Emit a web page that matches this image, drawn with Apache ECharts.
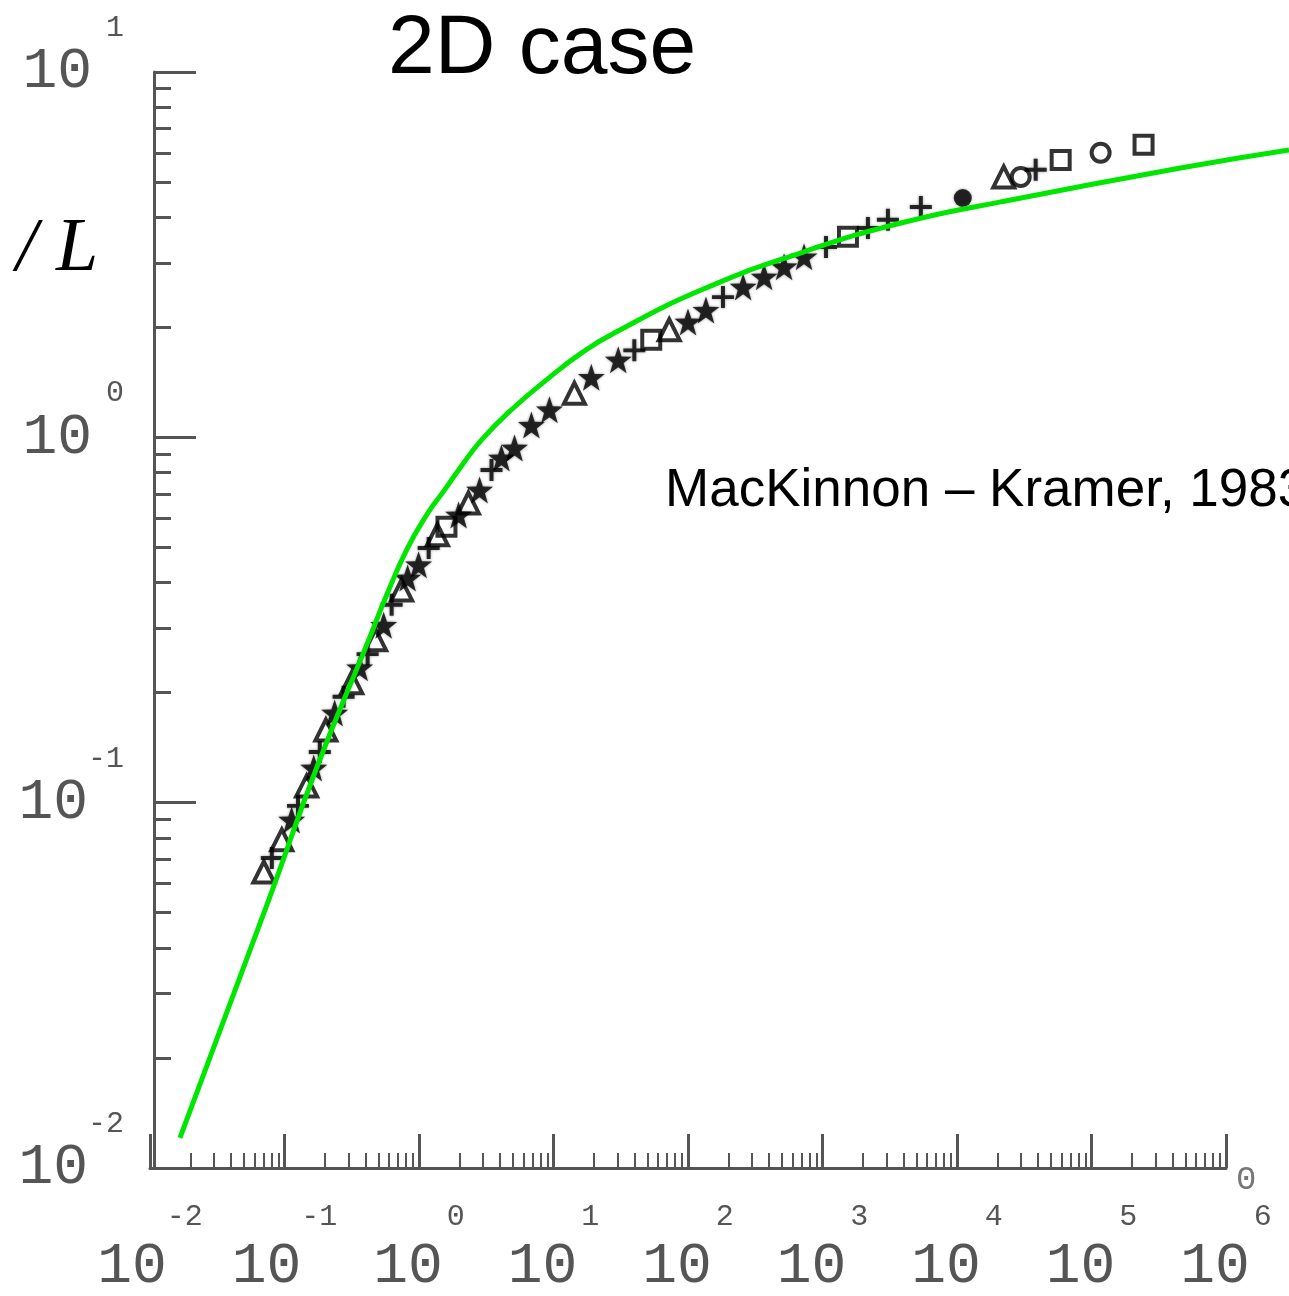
<!DOCTYPE html>
<html>
<head>
<meta charset="utf-8">
<script src="https://cdn.jsdelivr.net/npm/echarts@6/dist/echarts.min.js"></script>
<style>
  html, body { margin: 0; padding: 0; background: #ffffff; }
  #chart { width: 1289px; height: 1296px; }
</style>
</head>
<body>
<div id="chart"></div>
<script>
// ---- texts ----
const titleText = '2D case';
const noteText = 'MacKinnon – Kramer, 1983';
const yTitle = '/ L';

// ---- axis ranges and tick layout ----
const xRange = [1e-2, 1e6];
const yRange = [1e-2, 1e1];
const minorSteps = [2, 3, 4, 5, 6, 7, 8, 9];
const xDecades = [-2, -1, 0, 1, 2, 3, 4, 5];
const yDecades = [-2, -1, 0];

// ---- scaling curve (green), runs on past the last decade ----
const fitX = [0.0167, 0.0764, 0.174, 0.423, 0.575, 0.809, 1.139, 1.55, 2.07, 2.92, 4.87, 9.16, 16.1, 28.3, 125, 692, 3828, 21150, 458000, 2.94e6];
const fitY = [0.0121, 0.0542, 0.125, 0.279, 0.370, 0.492, 0.613, 0.718, 0.835, 0.984, 1.19, 1.45, 1.70, 1.93, 2.53, 3.20, 3.86, 4.41, 5.46, 6.12];

// ---- numerical data, grouped by marker ----
const triangleX = [0.0702, 0.0955, 0.146, 0.203, 0.316, 0.476, 0.743, 1.37, 2.33, 14.3, 72.5, 22250];
const triangleY = [0.0646, 0.0791, 0.111, 0.158, 0.213, 0.279, 0.382, 0.541, 0.661, 1.32, 1.97, 5.16];

const crossX = [0.0805, 0.126, 0.183, 0.275, 0.415, 0.626, 1.18, 3.46, 39.9, 182, 1062, 2177, 3065, 5385, 38460];
const crossY = [0.0706, 0.098, 0.1377, 0.195, 0.255, 0.348, 0.498, 0.814, 1.73, 2.42, 3.32, 3.74, 3.94, 4.27, 5.40];

const starX = [0.113, 0.165, 0.236, 0.362, 0.546, 0.823, 0.993, 1.97, 2.82, 4.10, 5.13, 6.85, 9.33, 19.1, 30.3, 100, 136, 257, 368, 518, 729];
const starY = [0.0897, 0.1245, 0.176, 0.234, 0.306, 0.412, 0.448, 0.613, 0.718, 0.878, 0.935, 1.08, 1.19, 1.46, 1.63, 2.07, 2.23, 2.58, 2.75, 2.93, 3.12];

const squareX = [1.60, 53.3, 1546, 58990, 243800];
const squareY = [0.569, 1.85, 3.54, 5.74, 6.32];

const dotX = [11040];
const dotY = [4.52];

const ringX = [29770, 116900];
const ringY = [5.16, 6.01];

const pairs = (xs, ys) => xs.map((x, i) => [x, ys[i]]);

const xMinor = xDecades.flatMap(d => minorSteps.map(s => +(s * Math.pow(10, d)).toPrecision(3)));
const yMinor = yDecades.flatMap(d => minorSteps.map(s => +(s * Math.pow(10, d)).toPrecision(3)));

// plot box in pixels
const W = 1289, H = 1296;
const box = { left: 150, right: 63, top: 72, bottom: 128 };
// a wider twin box (to the page edge) keeps the same pixels per decade,
// so the curve can continue beyond the axis end
const decadesX = Math.log10(xRange[1] / xRange[0]);
const pxPerDecade = (W - box.left - box.right) / decadesX;
const wideMax = xRange[0] * Math.pow(10, (W - box.left) / pxPerDecade);

const scanGray = '#555555';
const inkColor = '#000000';
const monoFont = 'Liberation Mono';

// "10" with the exponent raised; negative exponents sit a little tighter
const powerLabel = v => {
  const p = Math.round(Math.log10(v));
  return '{b|10}{' + (p < 0 ? 'n' : 'e') + '|' + p + '}';
};

const STAR = 'path://M0,-10L2.35,-3.24L9.51,-3.09L3.8,1.24L5.88,8.09L0,4L-5.88,8.09L-3.8,1.24L-9.51,-3.09L-2.35,-3.24Z';
const CROSS = 'path://M-1.8,-10H1.8V-1.8H10V1.8H1.8V10H-1.8V1.8H-10V-1.8H-1.8Z';

// soft edge of the printed solid symbols
const inkBlur = { shadowBlur: 3, shadowColor: 'rgba(0,0,0,0.5)' };
const openStyle = { color: 'rgba(255,255,255,0)', borderColor: inkColor, borderWidth: 4 };

const chart = echarts.init(document.getElementById('chart'), null, { renderer: 'canvas' });

const hiddenAxisParts = {
  axisLine: { show: false },
  axisLabel: { show: false },
  splitLine: { show: false }
};
const bareAxis = {
  show: false, axisLine: { show: false }, axisTick: { show: false },
  axisLabel: { show: false }, splitLine: { show: false }
};

const labelRich = (raise, gap) => ({
  b: { fontFamily: monoFont, fontSize: 58, lineHeight: 58, color: scanGray },
  e: { fontFamily: monoFont, fontSize: 30, lineHeight: 30, color: scanGray, padding: [0, 0, raise, gap] },
  n: { fontFamily: monoFont, fontSize: 30, lineHeight: 30, color: scanGray, padding: [0, 0, raise, 0] }
});

chart.setOption({
  backgroundColor: '#ffffff',
  animation: false,
  grid: [
    Object.assign({ containLabel: false, outerBoundsMode: 'none' }, box),
    { left: box.left, right: 0, top: box.top, bottom: box.bottom, containLabel: false, outerBoundsMode: 'none' }
  ],
  xAxis: [
    {
      type: 'log', logBase: 10, min: xRange[0], max: xRange[1], interval: 1, gridIndex: 0,
      axisLine: { show: true, lineStyle: { color: scanGray, width: 3 } },
      axisTick: { show: true, inside: true, length: 34, lineStyle: { color: scanGray, width: 3 } },
      splitLine: { show: false },
      axisLabel: { show: true, margin: 70, formatter: powerLabel, rich: labelRich(100, 4) }
    },
    Object.assign({
      type: 'log', logBase: 10, min: xRange[0], max: xRange[1], position: 'bottom', gridIndex: 0,
      axisTick: { show: true, inside: true, length: 15, customValues: xMinor, lineStyle: { color: scanGray, width: 2 } }
    }, hiddenAxisParts),
    Object.assign({ type: 'log', logBase: 10, min: xRange[0], max: wideMax, gridIndex: 1 }, bareAxis)
  ],
  yAxis: [
    {
      type: 'log', logBase: 10, min: yRange[0], max: yRange[1], interval: 1, offset: -4, gridIndex: 0,
      axisLine: { show: true, lineStyle: { color: scanGray, width: 3 } },
      axisTick: { show: true, inside: true, length: 42, lineStyle: { color: scanGray, width: 3 } },
      splitLine: { show: false },
      axisLabel: { show: true, margin: 30, formatter: powerLabel, rich: labelRich(88, 14) }
    },
    Object.assign({
      type: 'log', logBase: 10, min: yRange[0], max: yRange[1], position: 'left', offset: -4, gridIndex: 0,
      axisTick: { show: true, inside: true, length: 17, customValues: yMinor, lineStyle: { color: scanGray, width: 3 } }
    }, hiddenAxisParts),
    Object.assign({ type: 'log', logBase: 10, min: yRange[0], max: yRange[1], gridIndex: 1 }, bareAxis)
  ],
  series: [
    {
      name: 'triangles', type: 'scatter', symbol: 'triangle', symbolSize: 21,
      itemStyle: openStyle,
      data: pairs(triangleX, triangleY)
    },
    {
      name: 'crosses', type: 'scatter', symbol: CROSS, symbolSize: 22,
      itemStyle: Object.assign({ color: inkColor }, inkBlur),
      data: pairs(crossX, crossY)
    },
    {
      name: 'stars', type: 'scatter', symbol: STAR, symbolSize: 27,
      itemStyle: Object.assign({ color: inkColor }, inkBlur),
      data: pairs(starX, starY)
    },
    {
      name: 'squares', type: 'scatter', symbol: 'rect', symbolSize: 18,
      itemStyle: openStyle,
      data: pairs(squareX, squareY)
    },
    {
      name: 'dots', type: 'scatter', symbol: 'circle', symbolSize: 18,
      itemStyle: Object.assign({ color: inkColor }, inkBlur),
      data: pairs(dotX, dotY)
    },
    {
      name: 'rings', type: 'scatter', symbol: 'circle', symbolSize: 18,
      itemStyle: openStyle,
      data: pairs(ringX, ringY)
    },
    {
      name: 'fit', type: 'line', xAxisIndex: 2, yAxisIndex: 2,
      smooth: 0.5, showSymbol: false, clip: false, z: 10,
      lineStyle: { color: '#00e600', width: 5 },
      data: pairs(fitX, fitY)
    }
  ],
  graphic: [
    {
      type: 'text', x: 388, y: 50, z: 20,
      style: { text: titleText, fontFamily: 'Liberation Sans', fontSize: 84, fill: '#000000', verticalAlign: 'middle' }
    },
    {
      type: 'text', x: 16, y: 250, z: 20,
      style: { text: yTitle, fontFamily: 'Liberation Serif', fontStyle: 'italic', fontSize: 76, fill: '#000000', verticalAlign: 'middle' }
    },
    {
      type: 'text', x: 665, y: 491, z: 20,
      style: { text: noteText, fontFamily: 'Liberation Sans', fontSize: 53, fill: '#000000', verticalAlign: 'middle' }
    },
    {
      type: 'text', x: 1236, y: 1180, z: 20,
      style: { text: '0', fontFamily: monoFont, fontSize: 34, fill: '#777777', verticalAlign: 'middle' }
    }
  ]
});
</script>
</body>
</html>
